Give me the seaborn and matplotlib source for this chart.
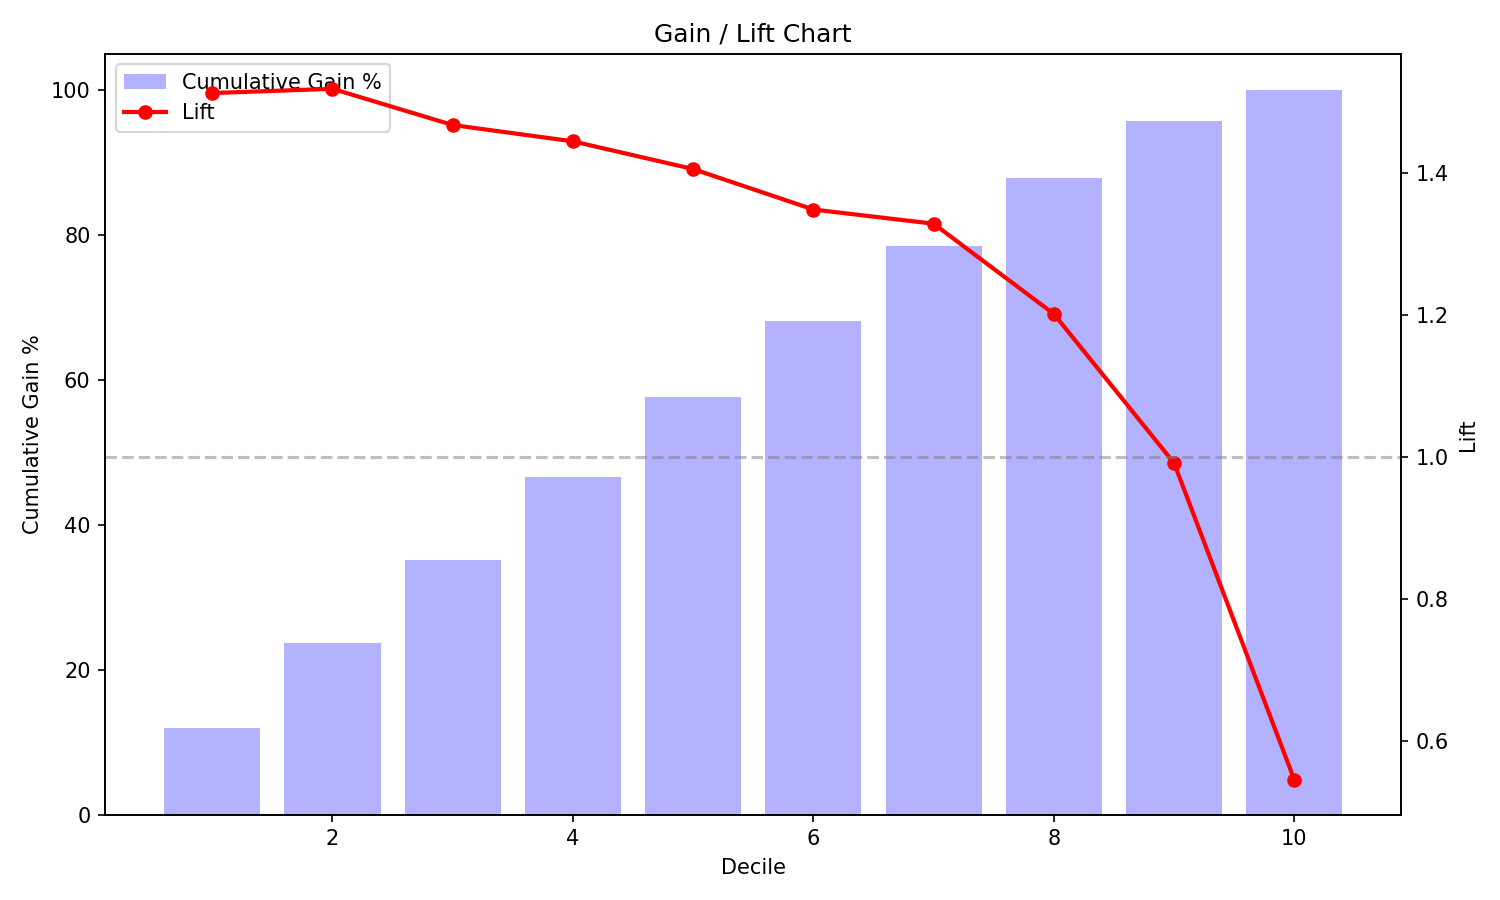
import matplotlib
matplotlib.use("Agg")
import matplotlib.pyplot as plt
import seaborn as sns
import pandas as pd

# --- Data ---
deciles = [1, 2, 3, 4, 5, 6, 7, 8, 9, 10]
cumulative_gain = [11.9, 23.7, 35.2, 46.6, 57.6, 68.1, 78.5, 87.9, 95.7, 100.0]
lift = [1.513, 1.519, 1.468, 1.445, 1.406, 1.349, 1.329, 1.202, 0.992, 0.546]

df = pd.DataFrame({"Decile": deciles, "Gain": cumulative_gain, "Lift": lift})

fig, ax1 = plt.subplots(figsize=(10, 6), dpi=150)

sns.barplot(
    data=df, x="Decile", y="Gain", ax=ax1, native_scale=True,
    color="blue", saturation=1, alpha=0.3, label="Cumulative Gain %",
)
ax1.set_xlabel("Decile")
ax1.set_ylabel("Cumulative Gain %")

ax2 = ax1.twinx()
sns.lineplot(
    data=df, x="Decile", y="Lift", ax=ax2, color="red", marker="o",
    markersize=6, markeredgewidth=1, markeredgecolor="red",
    linewidth=2, label="Lift", legend=False,
)
ax2.axhline(1.0, color="gray", linestyle="--", alpha=0.5)
ax2.set_ylabel("Lift")

ax1.set_xlim(0.11, 10.89)
ax1.set_ylim(0, 105)
ax2.set_ylim(0.497, 1.568)
ax1.set_xticks([2, 4, 6, 8, 10])

h1, l1 = ax1.get_legend_handles_labels()
h2, l2 = ax2.get_legend_handles_labels()
ax1.legend(h1 + h2, l1 + l2, loc="upper left")

ax1.set_title("Gain / Lift Chart")
plt.tight_layout()
plt.savefig("out.png", dpi=150)
plt.close()
